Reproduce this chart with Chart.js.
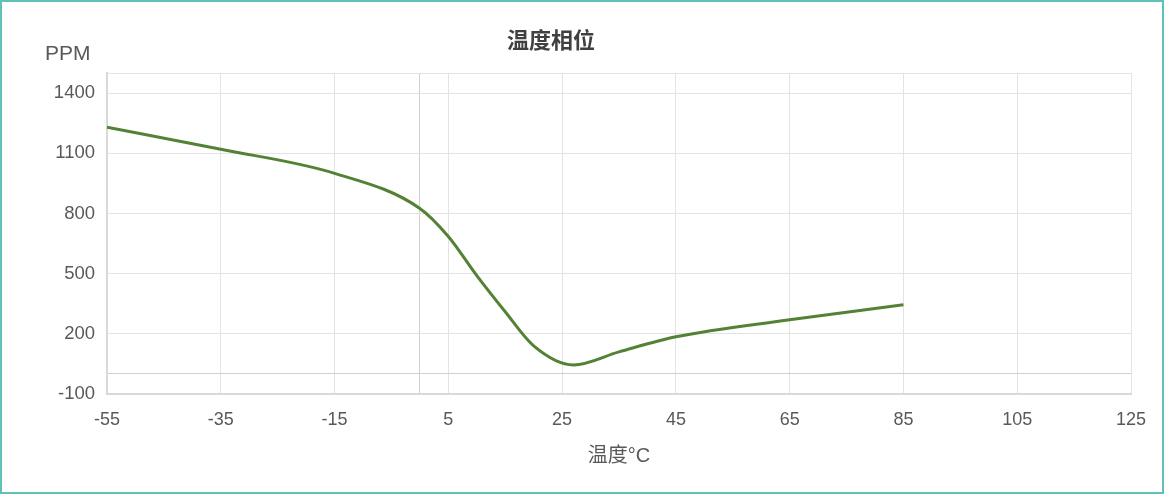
<!DOCTYPE html>
<html>
<head>
<meta charset="utf-8">
<script src="https://cdn.jsdelivr.net/npm/chart.js@4.4.1/dist/chart.umd.min.js"></script>
<style>
  html, body { margin: 0; padding: 0; background: #fff; }
  #frame {
    position: absolute; left: 0; top: 0;
    width: 1164px; height: 494px;
    box-sizing: border-box;
    border: 2px solid #5fc1b7;
  }
  #box { position: absolute; left: 0; top: 0; width: 1160px; height: 490px; }
  .lbl { position: absolute; font-family: "Liberation Sans", "Noto Sans CJK SC", sans-serif; color: #595959; white-space: nowrap; }
  #title { left: 505px; top: 20px; font-size: 22px; font-weight: bold; color: #404040; font-family: "Noto Sans CJK SC", sans-serif; }
  #yname { left: 43px; top: 39px; font-size: 21px; }
</style>
</head>
<body>
<div id="frame">
  <div id="box"><canvas id="chart"></canvas></div>
  <div class="lbl" id="title">温度相位</div>
  <div class="lbl" id="yname">PPM</div>
</div>
<script>
// temperature (°C) and phase drift (PPM)
var temps = [-55, -35, -15, 0, 5, 10, 15, 20, 27, 35, 45, 65, 85];
var ppm   = [1230, 1120, 1000, 825, 685, 490, 310, 140, 45, 110, 185, 270, 345];

var xTicks = [-55, -35, -15, 0, 5, 25, 45, 65, 85, 105, 125];
var yTicks = [-100, 0, 200, 500, 800, 1100, 1400, 1500];

var points = temps.map(function (t, i) { return {x: t, y: ppm[i]}; });

var fontFam = '"Liberation Sans", "Noto Sans CJK SC", sans-serif';

function gridColor(ctx) {
    return ctx.tick && ctx.tick.value === 0 ? '#d0d0d0' : '#e3e3e3';
}

new Chart(document.getElementById('chart').getContext('2d'), {
    type: 'line',
    data: {
        datasets: [{
            data: points,
            borderColor: '#548235',
            borderWidth: 3,
            pointRadius: 0,
            fill: false,
            cubicInterpolationMode: 'monotone'
        }]
    },
    options: {
        responsive: true,
        maintainAspectRatio: false,
        animation: false,
        layout: { padding: { top: 71, right: 31, left: 0, bottom: 0 } },
        plugins: { legend: { display: false }, tooltip: { enabled: false } },
        scales: {
            x: {
                type: 'linear',
                min: -55,
                max: 125,
                afterBuildTicks: function (s) { s.ticks = xTicks.map(function (v) { return {value: v}; }); },
                afterFit: function (s) { s.height = 98; },
                ticks: {
                    autoSkip: false,
                    maxRotation: 0,
                    padding: 15,
                    color: '#595959',
                    font: { family: fontFam, size: 18 },
                    callback: function (v) { return v === 0 ? '' : v; }
                },
                grid: { color: gridColor, drawTicks: false },
                border: { color: '#d9d9d9', width: 2 },
                title: {
                    display: true,
                    text: '温度°C',
                    color: '#595959',
                    font: { family: fontFam, size: 20 },
                    padding: { top: 0, bottom: 24 }
                }
            },
            y: {
                min: -100,
                max: 1500,
                afterBuildTicks: function (s) { s.ticks = yTicks.map(function (v) { return {value: v}; }); },
                afterFit: function (s) { s.width = 105; },
                ticks: {
                    autoSkip: false,
                    padding: 12,
                    color: '#595959',
                    font: { family: fontFam, size: 18.5 },
                    callback: function (v) { return (v === 0 || v === 1500) ? '' : v; }
                },
                grid: { color: gridColor, drawTicks: false },
                border: { color: '#d9d9d9', width: 2 }
            }
        }
    }
});
</script>
</body>
</html>
